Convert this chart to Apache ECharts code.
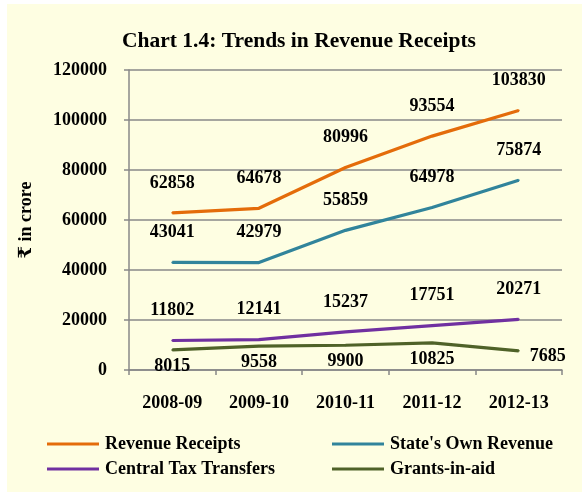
<!DOCTYPE html>
<html>
<head>
<meta charset="utf-8">
<script src="https://cdn.jsdelivr.net/npm/echarts@6/dist/echarts.min.js"></script>
<style>
html,body{margin:0;padding:0;background:#fff;}
#bg{position:absolute;left:7px;top:4px;width:575px;height:488px;background:#FEFEE2;}
#chart{position:absolute;left:0;top:0;width:582px;height:492px;}
</style>
</head>
<body>
<div id="bg"></div>
<div id="chart"></div>
<script>
const categories = ['2008-09','2009-10','2010-11','2011-12','2012-13'];
const revenueReceipts = [62858, 64678, 80996, 93554, 103830];
const statesOwnRevenue = [43041, 42979, 55859, 64978, 75874];
const centralTaxTransfers = [11802, 12141, 15237, 17751, 20271];
const grantsInAid = [8015, 9558, 9900, 10825, 7685];
const seriesNames = ['Revenue Receipts', "State's Own Revenue", 'Central Tax Transfers', 'Grants-in-aid'];

const FONT = "'Liberation Serif','Times New Roman','DejaVu Serif',serif";
const colors = ['#E46C0A', '#31849B', '#7030A0', '#4F6228'];
const grayLine = '#888888';

function lineSeries(name, data, color, labelPos) {
  return {
    name: name,
    type: 'line',
    data: data.map((v, i) => {
      const item = { value: v };
      if (labelPos === 'bottom' && i === data.length - 1) {
        item.label = { position: 'right', distance: 10, offset: [0, 6] };
      }
      return item;
    }),
    symbol: 'circle',
    symbolSize: 2,
    showSymbol: true,
    showAllSymbol: true,
    lineStyle: { color: color, width: 3.2 },
    itemStyle: { color: color },
    label: {
      show: true,
      position: labelPos,
      distance: labelPos === 'top' ? 20 : 6,
      color: '#000',
      fontFamily: FONT,
      fontWeight: 'bold',
      fontSize: 18
    },
    z: 3
  };
}

function legendAt(name, left, top) {
  return {
    data: [name],
    left: left,
    top: top,
    padding: 0,
    icon: 'rect',
    itemWidth: 52,
    itemHeight: 3,
    itemGap: 0,
    textStyle: { color: '#000', fontFamily: FONT, fontWeight: 'bold', fontSize: 18, padding: [0, 0, 0, 1] },
    selectedMode: false
  };
}

const chart = echarts.init(document.getElementById('chart'), null, { renderer: 'canvas' });
chart.setOption({
  backgroundColor: 'transparent',
  animation: false,
  title: {
    text: 'Chart 1.4: Trends in Revenue Receipts',
    left: 294,
    top: 25,
    textAlign: 'center',
    textStyle: { color: '#000', fontFamily: FONT, fontWeight: 'bold', fontSize: 21.5 }
  },
  legend: [
    legendAt(seriesNames[0], 47, 435),
    legendAt(seriesNames[1], 332, 435),
    legendAt(seriesNames[2], 47, 460),
    legendAt(seriesNames[3], 332, 460)
  ],
  grid: { left: 129, right: 20, top: 70, bottom: 122, containLabel: false },
  xAxis: {
    type: 'category',
    data: categories,
    boundaryGap: true,
    axisLine: { show: true, lineStyle: { color: grayLine, width: 1.5 } },
    axisTick: { show: true, length: 5, lineStyle: { color: grayLine, width: 1.5 } },
    axisLabel: { color: '#000', fontFamily: FONT, fontWeight: 'bold', fontSize: 18, margin: 24 }
  },
  yAxis: {
    type: 'value',
    min: 0,
    max: 120000,
    interval: 20000,
    name: '₹ in crore',
    nameLocation: 'middle',
    nameRotate: 90,
    nameGap: 94,
    nameTextStyle: { color: '#000', fontFamily: FONT, fontWeight: 'bold', fontSize: 18 },
    axisLine: { show: true, lineStyle: { color: grayLine, width: 1.5 } },
    axisTick: { show: true, length: 5, lineStyle: { color: grayLine, width: 1.5 } },
    splitLine: { show: true, lineStyle: { color: grayLine, width: 1.5 } },
    axisLabel: { color: '#000', fontFamily: FONT, fontWeight: 'bold', fontSize: 18, margin: 22,
      formatter: v => String(v) }
  },
  series: [
    lineSeries(seriesNames[0], revenueReceipts, colors[0], 'top'),
    lineSeries(seriesNames[1], statesOwnRevenue, colors[1], 'top'),
    lineSeries(seriesNames[2], centralTaxTransfers, colors[2], 'top'),
    lineSeries(seriesNames[3], grantsInAid, colors[3], 'bottom')
  ]
});
</script>
</body>
</html>
